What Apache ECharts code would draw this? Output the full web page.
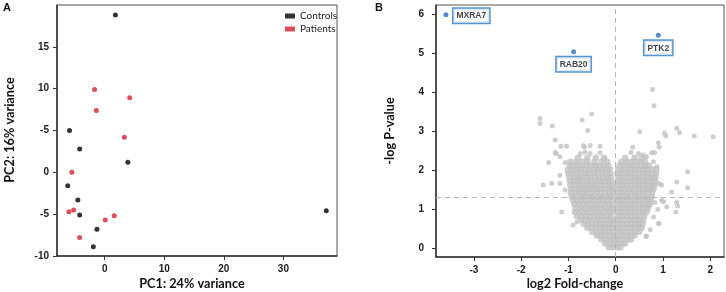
<!DOCTYPE html>
<html>
<head>
<meta charset="utf-8">
<script src="https://cdn.jsdelivr.net/npm/echarts@6/dist/echarts.min.js"></script>
<style>
  html, body { margin: 0; padding: 0; background: #fff; }
  #chart { width: 726px; height: 292px; }
</style>
</head>
<body>
<div id="chart"></div>
<script>
// panel A - PCA
var pcaControls = [[1.8,18.8],[-5.9,5.0],[-4.2,2.8],[3.9,1.2],[-6.2,-1.6],[-4.5,-3.3],[-4.2,-5.1],[-1.3,-6.8],[-1.9,-8.9],[37.2,-4.6]];
var pcaPatients = [[-1.7,9.9],[4.2,8.9],[-1.4,7.4],[3.3,4.2],[-5.5,0.0],[-6.0,-4.7],[-5.2,-4.5],[0.1,-5.7],[1.6,-5.2],[-4.2,-7.8]];
var pcaXTicks = [0, 10, 20, 30];
var pcaYTicks = [-10, -5, 0, 5, 10, 15];
var pcaYLabels = ['-10', '-5', '0', '-5', '10', '15'];

// panel B - volcano
var volcXTicks = [-3, -2, -1, 0, 1, 2];
var volcYTicks = [0, 1, 2, 3, 4, 5, 6];
var highlighted = [
  ['MXRA7', -3.59, 6.0],
  ['RAB20', -0.89, 5.05],
  ['PTK2', 0.9, 5.47]
];
var scattered = [
  [0.78,4.08],[0.81,3.66],[-1.6,3.33],[-1.6,3.2],[-0.71,3.29],[-0.51,3.45],[-1.34,3.14],[-0.59,3.02],
  [-1.28,2.78],[-1.16,2.62],[-1.04,2.62],[-0.66,2.6],[-0.54,2.64],[-0.33,2.62],[-0.68,2.63],
  [0.51,2.99],[1.03,2.96],[1.06,2.88],[1.29,3.08],[1.35,2.97],[1.66,2.88],[2.06,2.86],
  [0.36,2.59],[0.9,2.71],[0.92,2.6],[0.32,2.46],[0.48,2.43],[0.58,2.39],[0.65,2.35],[0.76,2.45],[0.82,2.46],
  [0.8,2.22],[0.87,2.09],[1.52,1.96],[1.29,1.7],[1.52,1.55],[1.18,1.44],[0.97,1.62],[0.92,1.66],
  [0.83,1.17],[0.97,1.23],[1.01,1.19],[1.29,1.17],[1.31,1.08],[1.27,0.93],[1.08,1.06],[0.89,0.99],
  [0.92,0.63],[0.73,0.47],[0.65,0.31],[0.8,0.8],[0.9,0.63],[0.64,0.3],
  [-1.28,2.46],[-1.18,2.35],[-1.42,2.2],[-1.07,2.2],[-0.75,2.43],[-0.65,2.47],[-0.54,2.43],[-0.33,2.45],[-0.23,2.3],
  [-1.26,2.43],[-1.53,1.62],[-1.35,1.66],[-1.18,1.66],[-1.14,0.93],[-1.18,1.87],[-1.07,1.49],[-0.9,0.59],[-0.82,0.67]
];
var cloudRows = [
  [0.02, [-0.15,-0.06,0.03,0.1]],
  [0.12, [-0.22,-0.13,-0.04,0.05,0.14,0.2]],
  [0.22, [-0.3,-0.21,-0.12,-0.03,0.06,0.15,0.24,0.32]],
  [0.32, [-0.4,-0.31,-0.22,-0.13,-0.04,0.04,0.13,0.22,0.31,0.4]],
  [0.42, [-0.5,-0.41,-0.32,-0.23,-0.14,-0.05,0.05,0.14,0.23,0.32,0.41,0.5]],
  [0.52, [-0.6,-0.51,-0.42,-0.33,-0.24,-0.15,-0.06,0.04,0.13,0.22,0.31,0.4,0.49,0.55]],
  [0.62, [-0.68,-0.59,-0.5,-0.41,-0.32,-0.23,-0.14,-0.06,0.05,0.14,0.23,0.32,0.41,0.5,0.57]],
  [0.72, [-0.74,-0.65,-0.56,-0.47,-0.38,-0.29,-0.2,-0.11,-0.05,0.04,0.13,0.22,0.31,0.4,0.49,0.58]],
  [0.82, [-0.82,-0.73,-0.64,-0.55,-0.46,-0.37,-0.28,-0.19,-0.1,0.05,0.14,0.23,0.32,0.41,0.5,0.6]],
  [0.92, [-0.86,-0.77,-0.68,-0.59,-0.5,-0.41,-0.32,-0.23,-0.14,-0.07,0.04,0.13,0.22,0.31,0.4,0.49,0.58,0.65]],
  [1.02, [-0.85,-0.76,-0.67,-0.58,-0.49,-0.4,-0.31,-0.22,-0.13,-0.07,0.05,0.14,0.23,0.32,0.41,0.5,0.59,0.68]],
  [1.12, [-0.87,-0.78,-0.69,-0.6,-0.51,-0.42,-0.33,-0.24,-0.15,-0.07,0.04,0.13,0.22,0.31,0.4,0.49,0.58,0.67,0.72]],
  [1.22, [-0.9,-0.81,-0.72,-0.63,-0.54,-0.45,-0.36,-0.27,-0.18,-0.09,0.05,0.14,0.23,0.32,0.41,0.5,0.59,0.68,0.74]],
  [1.32, [-0.93,-0.84,-0.75,-0.66,-0.57,-0.48,-0.39,-0.3,-0.21,-0.12,-0.07,0.04,0.13,0.22,0.31,0.4,0.49,0.58,0.67,0.76]],
  [1.42, [-0.95,-0.86,-0.77,-0.68,-0.59,-0.5,-0.41,-0.32,-0.23,-0.14,-0.07,0.05,0.14,0.23,0.32,0.41,0.5,0.59,0.68,0.77]],
  [1.52, [-0.94,-0.85,-0.76,-0.67,-0.58,-0.49,-0.4,-0.31,-0.22,-0.13,-0.07,0.04,0.13,0.22,0.31,0.4,0.49,0.58,0.67,0.76,0.8]],
  [1.62, [-0.96,-0.87,-0.78,-0.69,-0.6,-0.51,-0.42,-0.33,-0.24,-0.15,-0.08,0.05,0.14,0.23,0.32,0.41,0.5,0.59,0.68,0.77,0.82]],
  [1.72, [-0.97,-0.88,-0.79,-0.7,-0.61,-0.52,-0.43,-0.34,-0.25,-0.16,-0.09,0.04,0.13,0.22,0.31,0.4,0.49,0.58,0.67,0.76,0.83]],
  [1.82, [-0.98,-0.89,-0.8,-0.71,-0.62,-0.53,-0.44,-0.35,-0.26,-0.17,-0.1,0.05,0.14,0.23,0.32,0.41,0.5,0.59,0.68,0.77,0.84]],
  [1.92, [-1.0,-0.91,-0.82,-0.73,-0.64,-0.55,-0.46,-0.37,-0.28,-0.19,-0.11,0.04,0.13,0.22,0.31,0.4,0.49,0.58,0.67,0.76,0.85]],
  [2.02, [-1.01,-0.92,-0.83,-0.74,-0.65,-0.56,-0.47,-0.38,-0.29,-0.2,-0.12,0.05,0.14,0.23,0.32,0.41,0.5,0.59,0.68,0.77,0.86]],
  [2.12, [-0.97,-0.88,-0.79,-0.7,-0.61,-0.52,-0.43,-0.34,-0.25,-0.16,0.08,0.17,0.26,0.35,0.44,0.53,0.62,0.7]],
  [2.22, [-0.96,-0.84,-0.72,-0.6,-0.45,-0.3,-0.18,0.12,0.22,0.32,0.42,0.52,0.62]],
  [2.32, [-0.8,-0.6,-0.42,-0.25,0.2,0.4,0.55]]
];

var cloudPoints = [];
cloudRows.forEach(function (r) {
  r[1].forEach(function (x) { cloudPoints.push([x, r[0]]); });
});

var tickFont = { fontFamily: 'Liberation Sans', fontWeight: 'bold', fontSize: 10, color: '#1a1a1a' };
var axisLine = { show: true, onZero: false, lineStyle: { color: '#333', width: 1.5 } };
var axisTick = { show: true, inside: false, length: 4, lineStyle: { color: '#333', width: 1 } };
var titleFont = 'bold 12.7px Lato';

var myChart = echarts.init(document.getElementById('chart'));
var option = {
  animation: false,
  legend: {
    data: ['Controls', 'Patients'],
    orient: 'vertical',
    left: 280, top: 6,
    itemWidth: 10, itemHeight: 5, itemGap: 3,
    icon: 'rect',
    textStyle: { fontFamily: 'Lato', fontSize: 10, color: '#222' }
  },
  grid: [
    { left: 57, top: 5, width: 280, height: 251, show: true, borderColor: '#555', borderWidth: 1 },
    { left: 436, top: 5, width: 288, height: 252, show: true, borderColor: '#555', borderWidth: 1 }
  ],
  xAxis: [
    { type: 'value', gridIndex: 0, min: -8, max: 39, splitLine: { show: false },
      axisLine: axisLine, axisTick: Object.assign({ customValues: pcaXTicks }, axisTick),
      axisLabel: Object.assign({ customValues: pcaXTicks, margin: 8 }, tickFont) },
    { type: 'value', gridIndex: 1, min: -3.8, max: 2.29, splitLine: { show: false },
      axisLine: axisLine, axisTick: Object.assign({ customValues: volcXTicks }, axisTick),
      axisLabel: Object.assign({ customValues: volcXTicks, margin: 8 }, tickFont) }
  ],
  yAxis: [
    { type: 'value', gridIndex: 0, min: -10, max: 20, splitLine: { show: false },
      axisLine: axisLine, axisTick: Object.assign({ customValues: pcaYTicks }, axisTick),
      axisLabel: Object.assign({ customValues: pcaYTicks, margin: 8,
        formatter: function (v) { return pcaYLabels[pcaYTicks.indexOf(v)]; } }, tickFont) },
    { type: 'value', gridIndex: 1, min: -0.23, max: 6.25, splitLine: { show: false },
      axisLine: axisLine, axisTick: Object.assign({ customValues: volcYTicks }, axisTick),
      axisLabel: Object.assign({ customValues: volcYTicks, margin: 12 }, tickFont) }
  ],
  graphic: [
    { type: 'text', left: 3, top: 2, style: { text: 'A', font: 'bold 11px "Liberation Sans"', fill: '#111' } },
    { type: 'text', left: 375, top: 2, style: { text: 'B', font: 'bold 11px "Liberation Sans"', fill: '#111' } },
    { type: 'text', x: 192, y: 284, style: { text: 'PC1: 24% variance', font: titleFont, fill: '#111', align: 'center', verticalAlign: 'middle' } },
    { type: 'text', x: 10, y: 130, rotation: Math.PI / 2, style: { text: 'PC2: 16% variance', font: titleFont, fill: '#111', align: 'center', verticalAlign: 'middle' } },
    { type: 'text', x: 575, y: 284, style: { text: 'log2 Fold-change', font: titleFont, fill: '#111', align: 'center', verticalAlign: 'middle' } },
    { type: 'text', x: 390, y: 131, rotation: Math.PI / 2, style: { text: '-log P-value', font: titleFont, fill: '#111', align: 'center', verticalAlign: 'middle' } }
  ],
  series: [
    { name: 'Controls', type: 'scatter', xAxisIndex: 0, yAxisIndex: 0, symbolSize: 5,
      itemStyle: { color: '#000' }, data: pcaControls },
    { name: 'Patients', type: 'scatter', xAxisIndex: 0, yAxisIndex: 0, symbolSize: 5,
      itemStyle: { color: '#d42030' }, data: pcaPatients },
    { name: 'cloud', type: 'scatter', xAxisIndex: 1, yAxisIndex: 1, symbolSize: 6.5,
      itemStyle: { color: '#c2c2c2' }, data: cloudPoints,
      markLine: { silent: true, symbol: 'none', label: { show: false },
        lineStyle: { color: '#b5b5b5', type: [5, 4], width: 1 },
        data: [{ xAxis: 0 }, { yAxis: 1.3 }] } },
    { name: 'scattered', type: 'scatter', xAxisIndex: 1, yAxisIndex: 1, symbolSize: 5,
      itemStyle: { color: '#c2c2c2' }, data: scattered },
    { name: 'hits', type: 'scatter', xAxisIndex: 1, yAxisIndex: 1, symbolSize: 5,
      itemStyle: { color: '#2b6fbd' },
      label: { show: true, formatter: function (p) { return p.value[2]; },
        fontFamily: 'Liberation Sans', fontWeight: 'bold', fontSize: 8.5, color: '#111',
        backgroundColor: '#fff', borderColor: '#2f78c4', borderWidth: 1.5, padding: [3, 3, 2, 3] },
      data: highlighted.map(function (h, i) {
        var pos = i === 0 ? { position: 'right', distance: 5, offset: [0, 1] } : { position: 'bottom', distance: 3 };
        return { value: [h[1], h[2], h[0]], label: pos };
      }) }
  ]
};
myChart.setOption(option);
</script>
</body>
</html>
